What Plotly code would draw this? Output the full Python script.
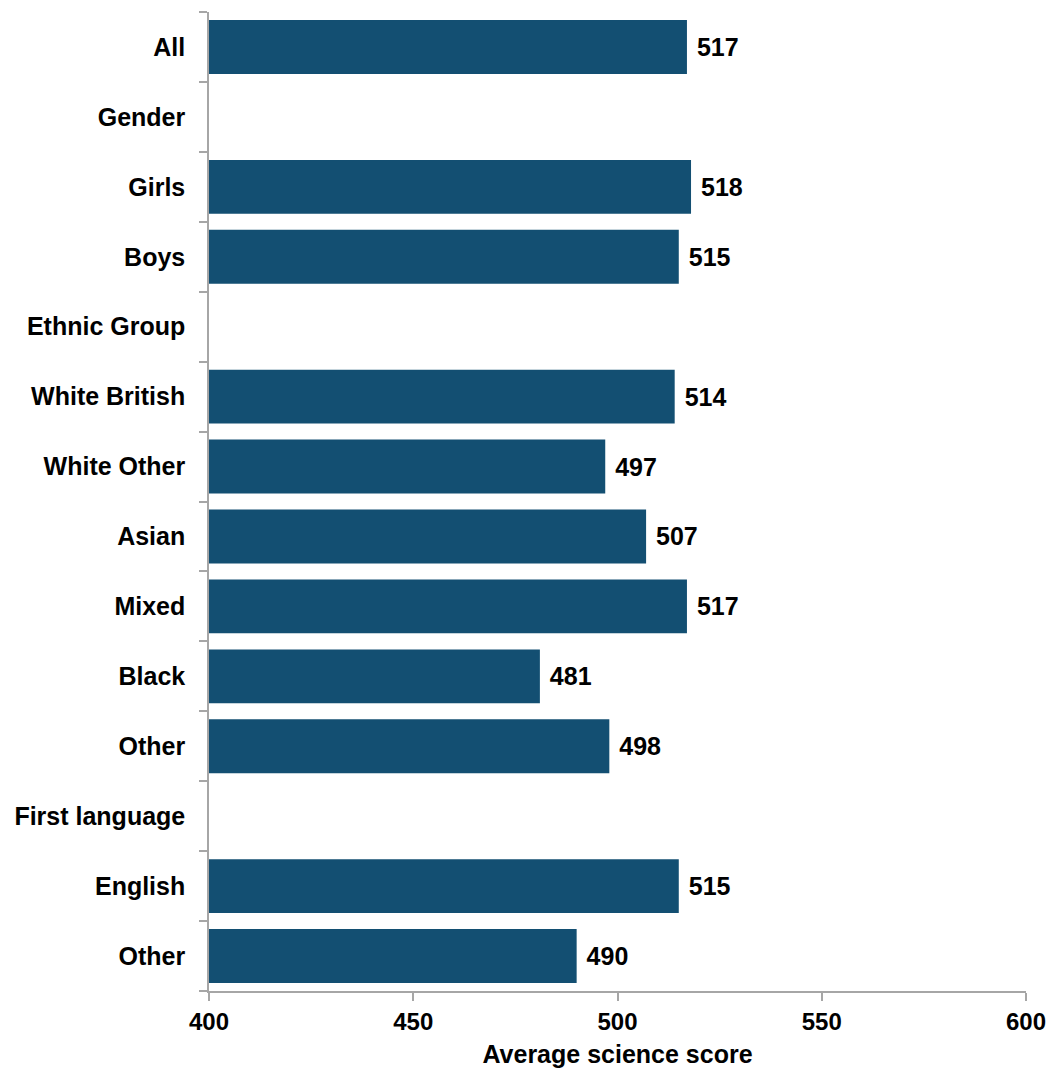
import plotly.graph_objects as go

categories = ["All", "Gender", "Girls", "Boys", "Ethnic Group", "White British",
              "White Other", "Asian", "Mixed", "Black", "Other",
              "First language", "English", "Other"]
scores = [517, None, 518, 515, None, 514, 497, 507, 517, 481, 498, None, 515, 490]
x_ticks = [400, 450, 500, 550, 600]

positions = list(range(len(categories)))
bar_pos = [p for p, s in zip(positions, scores) if s is not None]
bar_val = [s for s in scores if s is not None]

font_family = "Liberation Sans, Arial, sans-serif"
BAR = "#134F72"
AXIS = "#A6A6A6"

fig = go.Figure(go.Bar(
    x=bar_val, y=bar_pos, orientation="h",
    marker=dict(color=BAR, line=dict(width=0)),
    width=0.77,
    text=[f" <b>{v}</b>" for v in bar_val], textposition="outside",
    textfont=dict(family=font_family, size=25, color="black"),
    cliponaxis=False,
))

fig.update_layout(
    width=1051, height=1070,
    margin=dict(l=209, r=25, t=12, b=79),
    plot_bgcolor="white", paper_bgcolor="white",
    font=dict(family=font_family, size=24, color="black"),
    showlegend=False,
    xaxis=dict(
        range=[400, 600], tickvals=x_ticks, ticktext=[f"<b>{t}</b>" for t in x_ticks],
        showgrid=False, zeroline=False, automargin=False,
        showline=True, linecolor=AXIS, linewidth=1.5,
        ticks="outside", ticklen=8, tickcolor=AXIS, tickwidth=1.5,
        tickfont=dict(size=24),
        title=dict(text="<b>Average science score</b>", font=dict(size=25), standoff=12),
    ),
    yaxis=dict(
        range=[len(categories) - 0.5, -0.5],
        tickvals=positions, ticktext=[f"<b>{c}</b>" for c in categories],
        showgrid=False, zeroline=False, automargin=False,
        showline=True, linecolor=AXIS, linewidth=1.5,
        ticks="", tickfont=dict(size=25),
        ticklabelstandoff=17,
        minor=dict(tickvals=[p - 0.5 for p in positions] + [len(categories) - 0.5],
                   ticks="outside", ticklen=8, tickcolor=AXIS, tickwidth=1.5,
                   showgrid=False),
    ),
)

# remove the default page margin so the figure fills the window exactly
fig.write_html("out.html",
               config={"displayModeBar": False},
               post_script="document.body.style.margin='0';document.body.style.overflow='hidden';")
